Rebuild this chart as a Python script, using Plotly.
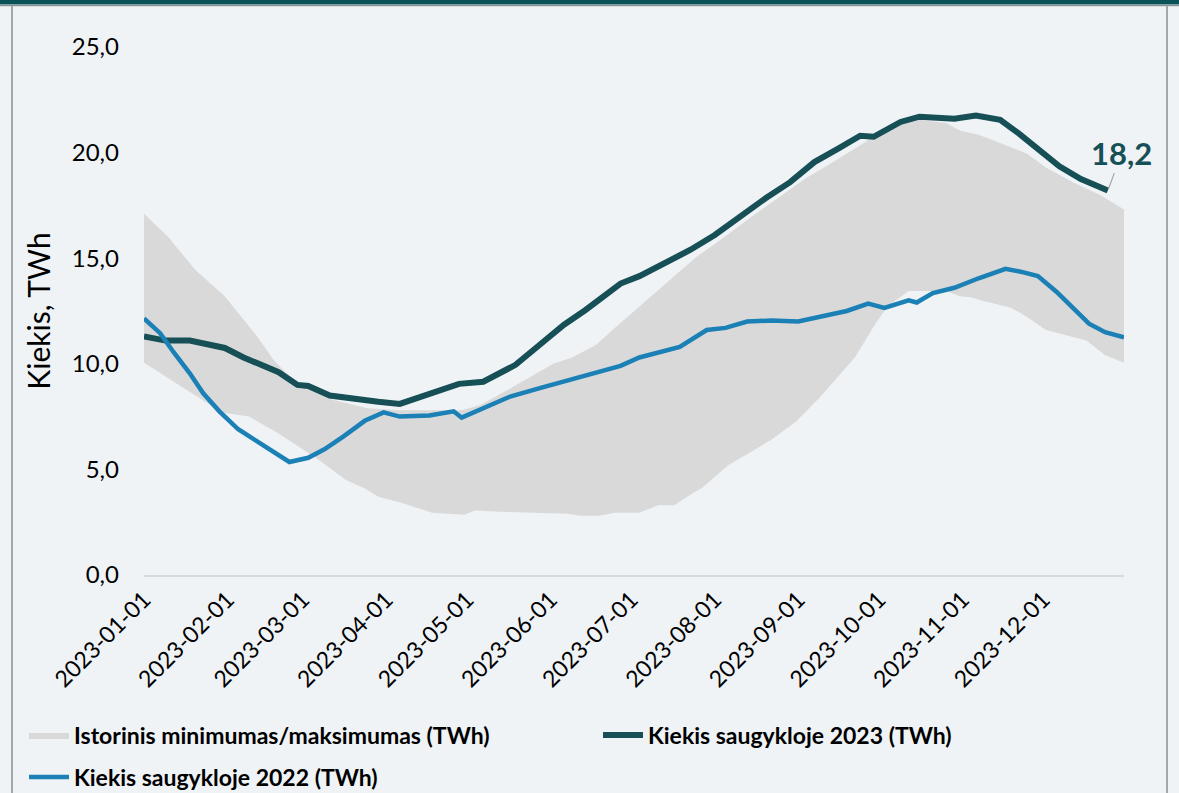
import plotly.graph_objects as go

# --- Data ---
dates_2023 = ["2023-01-01","2023-01-09","2023-01-18","2023-01-23","2023-01-31","2023-02-07","2023-02-15",
              "2023-02-20","2023-02-27","2023-03-03","2023-03-11","2023-03-22","2023-03-29","2023-04-06",
              "2023-04-13","2023-04-21","2023-04-28","2023-05-07","2023-05-13","2023-05-19","2023-05-28",
              "2023-06-06","2023-06-14","2023-06-21","2023-06-27","2023-07-04","2023-07-12","2023-07-23",
              "2023-08-01","2023-08-10","2023-08-20","2023-08-29","2023-09-07","2023-09-16","2023-09-24",
              "2023-09-29","2023-10-09","2023-10-16","2023-10-29","2023-11-06","2023-11-15","2023-11-22",
              "2023-11-30","2023-12-07","2023-12-15","2023-12-25"]
values_2023 = [11.3, 11.1, 11.1, 10.95, 10.75, 10.3, 9.85,
               9.6, 9.0, 8.95, 8.5, 8.3, 8.2, 8.1,
               8.4, 8.75, 9.05, 9.15, 9.55, 9.95, 10.9,
               11.85, 12.55, 13.25, 13.8, 14.15, 14.7, 15.4,
               16.1, 16.95, 17.85, 18.6, 19.55, 20.2, 20.8,
               20.75, 21.45, 21.7, 21.6, 21.75, 21.55, 20.9,
               20.1, 19.35, 18.75, 18.2]

dates_2022 = ["2023-01-01","2023-01-07","2023-01-12","2023-01-18","2023-01-23","2023-01-29","2023-02-05",
              "2023-02-13","2023-02-20","2023-02-24","2023-03-03","2023-03-09","2023-03-16","2023-03-24",
              "2023-03-31","2023-04-06","2023-04-17","2023-04-26","2023-04-29","2023-05-05","2023-05-17",
              "2023-05-28","2023-06-08","2023-06-19","2023-06-27","2023-07-04","2023-07-19","2023-07-29",
              "2023-08-05","2023-08-13","2023-08-22","2023-09-01","2023-09-10","2023-09-19","2023-09-27",
              "2023-10-03","2023-10-12","2023-10-15","2023-10-21","2023-10-29","2023-11-07","2023-11-17",
              "2023-11-23","2023-11-29","2023-12-06","2023-12-13","2023-12-18","2023-12-24","2023-12-29",
              "2023-12-31"]
values_2022 = [12.15, 11.45, 10.55, 9.55, 8.6, 7.75, 6.9,
               6.25, 5.65, 5.35, 5.55, 5.95, 6.55, 7.3,
               7.7, 7.5, 7.55, 7.75, 7.45, 7.8, 8.45,
               8.85, 9.25, 9.6, 9.9, 10.3, 10.8, 11.6,
               11.7, 12.0, 12.05, 12.0, 12.25, 12.5, 12.85,
               12.65, 13.0, 12.9, 13.35, 13.6, 14.05, 14.5,
               14.35, 14.15, 13.4, 12.55, 11.9, 11.5, 11.35,
               11.25]

dates_max = ["2023-01-01","2023-01-10","2023-01-20","2023-01-31","2023-02-05","2023-02-12","2023-02-18",
             "2023-02-24","2023-03-02","2023-03-12","2023-03-25","2023-04-06","2023-04-29","2023-05-06",
             "2023-05-18","2023-06-02","2023-06-09","2023-06-18","2023-06-24","2023-07-04","2023-07-14",
             "2023-07-25","2023-08-03","2023-08-14","2023-08-25","2023-09-04","2023-09-14","2023-09-26",
             "2023-10-01","2023-10-09","2023-10-16","2023-10-26","2023-10-31","2023-11-07","2023-11-15",
             "2023-11-25","2023-12-02","2023-12-12","2023-12-22","2023-12-31"]
values_max = [17.1, 16.0, 14.45, 13.2, 12.4, 11.3, 10.2,
              9.4, 8.85, 8.3, 7.9, 7.8, 7.8, 8.05,
              8.9, 10.0, 10.3, 10.9, 11.6, 12.7, 13.8,
              15.05, 15.85, 16.9, 17.9, 18.8, 19.55, 20.5,
              21.05, 21.4, 21.55, 21.4, 21.05, 20.85, 20.45,
              19.95, 19.3, 18.6, 18.0, 17.3]

dates_min = ["2023-01-01","2023-01-09","2023-01-16","2023-01-30","2023-02-09","2023-02-20","2023-03-07",
             "2023-03-17","2023-03-24","2023-03-29","2023-04-06","2023-04-18","2023-04-30","2023-05-04",
             "2023-05-13","2023-05-21","2023-06-07","2023-06-12","2023-06-19","2023-06-25","2023-07-04",
             "2023-07-11","2023-07-17","2023-07-24","2023-07-27","2023-08-06","2023-08-11","2023-08-22",
             "2023-08-31","2023-09-09","2023-09-22","2023-09-29","2023-10-04","2023-10-12","2023-10-26",
             "2023-10-31","2023-11-04","2023-11-08","2023-11-19","2023-11-24","2023-12-02","2023-12-17",
             "2023-12-24","2023-12-31"]
values_min = [10.05, 9.4, 8.85, 7.7, 7.5, 6.7, 5.45,
              4.5, 4.1, 3.7, 3.45, 2.95, 2.85, 3.05,
              3.0, 2.95, 2.9, 2.8, 2.8, 2.95, 2.95,
              3.3, 3.3, 3.9, 4.1, 5.2, 5.6, 6.4,
              7.25, 8.4, 10.3, 11.75, 12.7, 13.45, 13.45,
              13.2, 13.15, 13.0, 12.65, 12.3, 11.6, 11.1,
              10.4, 10.05]

tick_dates = ["2023-01-01","2023-02-01","2023-03-01","2023-04-01","2023-05-01","2023-06-01",
              "2023-07-01","2023-08-01","2023-09-01","2023-10-01","2023-11-01","2023-12-01"]
y_ticks = [0, 5, 10, 15, 20, 25]

name_band = "Istorinis minimumas/maksimumas (TWh)"
name_2023 = "Kiekis saugykloje 2023 (TWh)"
name_2022 = "Kiekis saugykloje 2022 (TWh)"
last_label = "18,2"

# --- Styles ---
BG = "#eff3f6"
BAND = "#d9d9d9"
C2023 = "#164f55"
C2022 = "#1a80b5"
FONT = "Lato, 'Open Sans', sans-serif"

fig = go.Figure()

fig.add_trace(go.Scatter(
    x=dates_max + dates_min[::-1],
    y=values_max + values_min[::-1],
    fill="toself", fillcolor=BAND, mode="lines",
    line=dict(width=0, color=BAND), name=name_band, hoverinfo="skip",
    legend="legend"))

fig.add_trace(go.Scatter(
    x=dates_2023, y=values_2023, mode="lines",
    line=dict(color=C2023, width=6), name=name_2023, legend="legend3"))

fig.add_trace(go.Scatter(
    x=dates_2022, y=values_2022, mode="lines",
    line=dict(color=C2022, width=4.5), name=name_2022, legend="legend2"))

fig.add_annotation(
    x=dates_2023[-1], y=values_2023[-1], text="<b>" + last_label + "</b>",
    showarrow=True, arrowhead=0, arrowwidth=1.2, arrowcolor="#a6a6a6",
    ax=14, ay=-38, standoff=2,
    font=dict(family=FONT, size=31, color=C2023))

# Frame decorations (paper coordinates)
W, H = 1179, 793
L, R, T, B = 144, 55, 47, 218
pw, ph = W - L - R, H - T - B
def px(xp):
    return (xp - L) / pw
def py(yp):
    return (H - B - yp) / ph

fig.add_shape(type="rect", xref="paper", yref="paper",
              x0=px(0), x1=px(W), y0=py(4.5), y1=py(0),
              fillcolor="#0b5158", line_width=0, layer="above")
fig.add_shape(type="line", xref="paper", yref="paper",
              x0=px(0), x1=px(W), y0=py(5.5), y1=py(5.5),
              line=dict(color="#8a9396", width=1.5))
fig.add_shape(type="line", xref="paper", yref="paper",
              x0=px(12), x1=px(12), y0=py(6), y1=py(H),
              line=dict(color="#a6a6a6", width=2))
fig.add_shape(type="line", xref="paper", yref="paper",
              x0=px(1167), x1=px(1167), y0=py(6), y1=py(H),
              line=dict(color="#a6a6a6", width=2))

legend_font = dict(family=FONT, size=23, color="#000000", weight="bold")
def legend_at(x_px, y_px):
    return dict(orientation="h", xref="container", yref="container",
                x=x_px / W, y=1 - y_px / H, xanchor="left", yanchor="middle",
                font=legend_font, bgcolor="rgba(0,0,0,0)", itemwidth=40)

fig.update_layout(
    width=W, height=H,
    margin=dict(l=L, r=R, t=T, b=B, autoexpand=False),
    paper_bgcolor=BG, plot_bgcolor=BG,
    separators=", ",
    font=dict(family=FONT, color="#000000"),
    showlegend=True,
    legend=legend_at(24, 735),
    legend3=legend_at(598, 735),
    legend2=legend_at(24, 777),
)

fig.update_xaxes(
    type="date", range=["2023-01-01", "2023-12-31"],
    tickmode="array", tickvals=tick_dates, ticktext=tick_dates,
    tickangle=-45, tickfont=dict(family=FONT, size=23, color="#000000"),
    showgrid=False, zeroline=False, showline=True, linecolor="#d9d9d9", linewidth=2,
    ticks="")

fig.update_yaxes(
    range=[0, 25], tickmode="array", tickvals=y_ticks, tickformat=".1f",
    tickfont=dict(family=FONT, size=24, color="#000000"),
    showgrid=False, zeroline=False, showline=False, ticks="",
    ticklabelstandoff=24,
    title=dict(text="Kiekis, TWh", font=dict(family=FONT, size=30, color="#000000"), standoff=12))

fig.write_html("out.html", config={"displayModeBar": False},
               post_script="document.body.style.margin='0';")
